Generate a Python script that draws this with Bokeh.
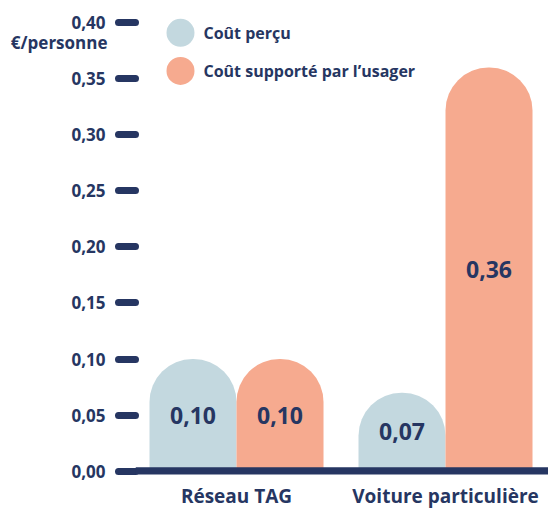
from bokeh.plotting import figure
from bokeh.models import (Range1d, FixedTicker, CustomJSTickFormatter, Span, LinearAxis,
                          ColumnDataSource)
from bokeh.core.properties import value
from bokeh.embed import file_html
from bokeh.resources import INLINE

# ---- data ----
categories = ["Réseau TAG", "Voiture particulière"]
series_names = ["Coût perçu", "Coût supporté par l’usager"]
cout_percu = [0.10, 0.07]
cout_supporte = [0.10, 0.36]
y_ticks = [0.00, 0.05, 0.10, 0.15, 0.20, 0.25, 0.30, 0.35, 0.40]
unit_label = "€/personne"

# ---- style ----
NAVY = "#263662"
BLUE = "#c3d8df"
ORANGE = "#f6aa8f"
FONT = "Open Sans"

W, H = 548, 511
X0, X1 = -0.4833, 1.4928
p = figure(width=W, height=H, output_backend="svg", toolbar_location=None,
           x_range=Range1d(X0, X1), y_range=Range1d(-0.003, 0.41),
           min_border_left=135, min_border_right=0, min_border_top=11, min_border_bottom=34)
p.outline_line_color = None
p.xgrid.visible = False
p.ygrid.visible = False
p.background_fill_color = "white"
p.border_fill_color = "white"

bw = 0.4163
off = bw / 2
xs = list(range(len(categories)))

src1 = ColumnDataSource(dict(x=[i - off for i in xs], top=cout_percu,
                             lab=[f"{v:.2f}".replace(".", ",") for v in cout_percu],
                             mid=[v / 2 for v in cout_percu]))
src2 = ColumnDataSource(dict(x=[i + off for i in xs], top=cout_supporte,
                             lab=[f"{v:.2f}".replace(".", ",") for v in cout_supporte],
                             mid=[v / 2 for v in cout_supporte]))

for src, col in ((src1, BLUE), (src2, ORANGE)):
    p.vbar(x="x", top="top", bottom=0, width=bw, source=src, fill_color=col,
           line_color=None, border_radius=(43, 43, 0, 0))
    p.text(x="x", y="mid", text="lab", source=src, text_align="center",
           text_baseline="middle", text_font=value(FONT), text_font_style="bold",
           text_font_size="23px", text_color=NAVY)

# baseline
p.add_layout(Span(location=0, dimension="width", line_color=NAVY, line_width=8))

# y axis
ya = p.yaxis[0]
ya.ticker = FixedTicker(ticks=y_ticks)
ya.formatter = CustomJSTickFormatter(code="return tick.toFixed(2).replace('.', ',')")
ya.axis_line_color = None
ya.major_tick_in = 0
ya.major_tick_out = 17
ya.major_tick_line_width = 7
ya.major_tick_line_cap = "round"
ya.major_tick_line_color = NAVY
ya.minor_tick_line_color = None
ya.major_label_standoff = 13
ya.major_label_text_font = FONT
ya.major_label_text_font_style = "bold"
ya.major_label_text_font_size = "17px"
ya.major_label_text_color = NAVY

# unit label: a second left axis with a single label tucked under "0,40"
ua = LinearAxis(ticker=FixedTicker(ticks=[0.382]),
                formatter=CustomJSTickFormatter(args=dict(lab=unit_label), code="return lab"))
ua.axis_line_color = None
ua.major_tick_line_color = None
ua.minor_tick_line_color = None
ua.major_tick_in = 0
ua.major_tick_out = 0
ua.major_label_standoff = -39
ua.major_label_text_font = FONT
ua.major_label_text_font_style = "bold"
ua.major_label_text_font_size = "17px"
ua.major_label_text_color = NAVY
p.add_layout(ua, "left")

# x axis
xa = p.xaxis[0]
xa.ticker = FixedTicker(ticks=xs)
xa.major_label_overrides = {i: c for i, c in zip(xs, categories)}
xa.axis_line_color = None
xa.major_tick_line_color = None
xa.minor_tick_line_color = None
xa.major_tick_in = 0
xa.major_tick_out = 0
xa.major_label_standoff = 8
xa.major_label_text_font = FONT
xa.major_label_text_font_style = "bold"
xa.major_label_text_font_size = "19px"
xa.major_label_text_color = NAVY

# legend
leg_y = [0.391, 0.357]
p.scatter(x=[-0.268] * 2, y=leg_y, size=28, marker="circle",
          fill_color=[BLUE, ORANGE], line_color=None)
p.text(x=[-0.158] * 2, y=leg_y, text=series_names, text_align="left",
       text_baseline="middle", text_font=value(FONT), text_font_style="bold",
       text_font_size="16px", text_color=NAVY)

open("out.html", "w").write(file_html(p, INLINE))
